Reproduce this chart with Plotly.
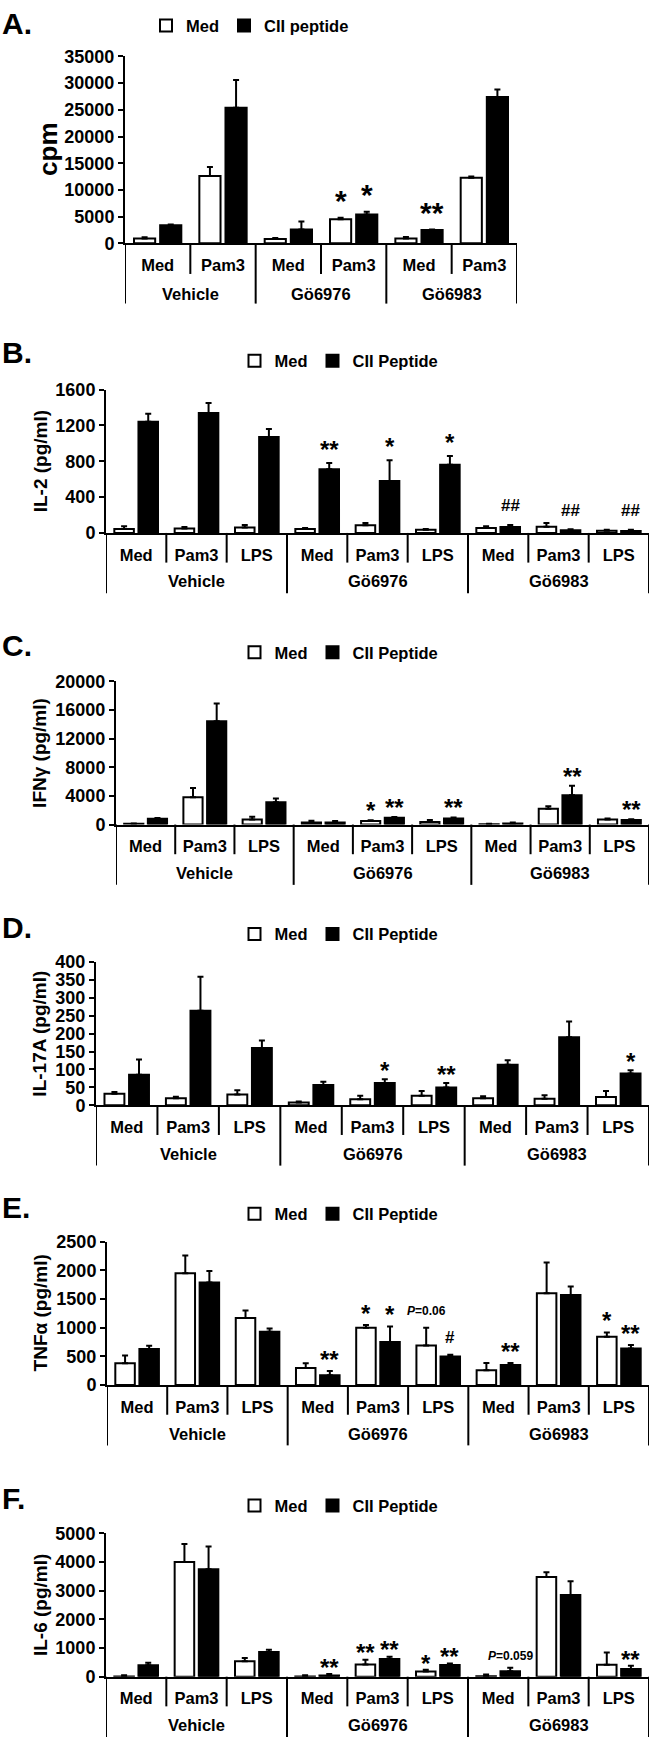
import plotly.graph_objects as go

W, H = 651, 1747
FONT = "Liberation Sans, Arial, Helvetica, sans-serif"

# ---------------- data ----------------
groups = ["Vehicle", "Gö6976", "Gö6983"]
cats_a = ["Med", "Pam3"]
cats_bf = ["Med", "Pam3", "LPS"]

# A. proliferation (cpm)
a_med = [900, 12600, 800, 4500, 900, 12300]
a_med_err = [250, 1700, 200, 300, 300, 200]
a_cii = [3400, 25400, 2600, 5400, 2500, 27400]
a_cii_err = [100, 5200, 1500, 500, 100, 1400]
a_sig = [(3, "med", "*"), (3, "cii", "*"), (4, "cii", "**")]

# B. IL-2 (pg/ml)
b_med = [45, 50, 60, 45, 85, 35, 55, 70, 25]
b_med_err = [30, 15, 30, 10, 25, 8, 20, 40, 10]
b_cii = [1240, 1340, 1070, 710, 580, 760, 65, 30, 22]
b_cii_err = [90, 110, 90, 70, 230, 100, 25, 10, 15]
b_sig = [(3, "cii", "**"), (4, "cii", "*"), (5, "cii", "*"),
         (6, "cii", "##"), (7, "cii", "##"), (8, "cii", "##")]

# C. IFNγ (pg/ml)
c_med = [100, 3800, 700, 300, 500, 350, 50, 2200, 700]
c_med_err = [50, 1300, 400, 250, 100, 300, 50, 350, 150]
c_cii = [800, 14400, 3100, 300, 950, 850, 150, 4100, 650]
c_cii_err = [100, 2500, 550, 200, 100, 150, 150, 1300, 100]
c_sig = [(4, "med", "*"), (4, "cii", "**"), (5, "cii", "**"),
         (7, "cii", "**"), (8, "cii", "**")]

# D. IL-17A (pg/ml)
d_med = [32, 20, 30, 8, 17, 27, 20, 18, 23]
d_med_err = [5, 4, 12, 3, 10, 13, 5, 10, 17]
d_cii = [85, 264, 160, 57, 62, 50, 113, 190, 89]
d_cii_err = [43, 95, 21, 9, 11, 12, 13, 44, 9]
d_sig = [(4, "cii", "*"), (5, "cii", "**"), (8, "cii", "*")]

# E. TNFα (pg/ml)
e_med = [380, 1950, 1170, 300, 1000, 690, 260, 1600, 845]
e_med_err = [135, 310, 130, 80, 50, 310, 125, 540, 70]
e_cii = [630, 1790, 930, 170, 750, 500, 350, 1570, 640]
e_cii_err = [55, 200, 55, 75, 270, 30, 35, 150, 60]
e_sig = [(3, "cii", "**"), (4, "med", "*"), (4, "cii", "*"),
         (5, "med", "<i>P</i>=0.06"), (5, "cii", "#"), (6, "cii", "**"),
         (8, "med", "*"), (8, "cii", "**")]

# F. IL-6 (pg/ml)
f_med = [10, 4000, 540, 10, 425, 180, 20, 3480, 420]
f_med_err = [40, 630, 110, 40, 170, 60, 60, 160, 420]
f_cii = [400, 3750, 860, 45, 620, 410, 190, 2850, 270]
f_cii_err = [90, 790, 80, 45, 80, 50, 120, 480, 110]
f_sig = [(3, "cii", "**"), (4, "med", "**"), (4, "cii", "**"),
         (5, "med", "*"), (5, "cii", "**"), (6, "cii", "<i>P</i>=0.059"),
         (8, "cii", "**")]

panels = [
    dict(letter="A.", ytitle="cpm", cats=cats_a, legend_names=["Med", "CII peptide"],
         med=a_med, med_err=a_med_err, cii=a_cii, cii_err=a_cii_err, sig=a_sig,
         ymax=35000, dtick=5000),
    dict(letter="B.", ytitle="IL-2 (pg/ml)", cats=cats_bf, legend_names=["Med", "CII Peptide"],
         med=b_med, med_err=b_med_err, cii=b_cii, cii_err=b_cii_err, sig=b_sig,
         ymax=1600, dtick=400),
    dict(letter="C.", ytitle="IFNγ (pg/ml)", cats=cats_bf, legend_names=["Med", "CII Peptide"],
         med=c_med, med_err=c_med_err, cii=c_cii, cii_err=c_cii_err, sig=c_sig,
         ymax=20000, dtick=4000),
    dict(letter="D.", ytitle="IL-17A (pg/ml)", cats=cats_bf, legend_names=["Med", "CII Peptide"],
         med=d_med, med_err=d_med_err, cii=d_cii, cii_err=d_cii_err, sig=d_sig,
         ymax=400, dtick=50),
    dict(letter="E.", ytitle="TNFα (pg/ml)", cats=cats_bf, legend_names=["Med", "CII Peptide"],
         med=e_med, med_err=e_med_err, cii=e_cii, cii_err=e_cii_err, sig=e_sig,
         ymax=2500, dtick=500),
    dict(letter="F.", ytitle="IL-6 (pg/ml)", cats=cats_bf, legend_names=["Med", "CII Peptide"],
         med=f_med, med_err=f_med_err, cii=f_cii, cii_err=f_cii_err, sig=f_sig,
         ymax=5000, dtick=1000),
]

# ---------------- layout geometry (pixels) ----------------
geom = [
    dict(x0=125, x1=517, ytop=47, yzero=236, G=287, short=31, long=10, leg=(250, 16),
         letter_y=14, ytx=48, ytfs=26, lift=24),
    dict(x0=106, x1=649, ytop=384, yzero=529, G=578, short=30, long=12, leg=(339, 355),
         letter_y=346, ytx=40, ytfs=19, lift=19),
    dict(x0=116, x1=649, ytop=679, yzero=824, G=873, short=30, long=12, leg=(339, 650),
         letter_y=643, ytx=40, ytfs=19, lift=15),
    dict(x0=96, x1=649, ytop=963, yzero=1108, G=1157, short=30, long=12, leg=(339, 935),
         letter_y=928, ytx=40, ytfs=19, lift=14),
    dict(x0=107, x1=649, ytop=1246, yzero=1391, G=1440, short=30, long=12, leg=(339, 1218),
         letter_y=1211, ytx=40, ytfs=19, lift=17),
    dict(x0=106, x1=649, ytop=1541, yzero=1686, G=1735, short=30, long=12, leg=(339, 1513),
         letter_y=1506, ytx=40, ytfs=19, lift=12),
]

BARGAP = 0.2
OFF = (1 - BARGAP) / 4


def fx(p):
    return p / W


def fy(p):
    return 1 - p / H


fig = go.Figure()
shapes, annotations = [], []
layout_upd = {}

for i, (p, g) in enumerate(zip(panels, geom), start=1):
    sfx = "" if i == 1 else str(i)
    xref, yref = "x" + sfx, "y" + sfx
    legname = "legend" + sfx
    cats = p["cats"]
    nc = len(cats)
    n = nc * len(groups)
    xs = list(range(n))
    ticktext = cats * len(groups)

    err_style = dict(type="data", symmetric=False, color="black", thickness=2, width=3)
    fig.add_trace(go.Bar(
        x=xs, y=p["med"], name=p["legend_names"][0], legend=legname,
        xaxis=xref, yaxis=yref,
        marker=dict(color="white", line=dict(color="black", width=2)),
        error_y=dict(array=p["med_err"], arrayminus=[0] * n, **err_style),
    ))
    fig.add_trace(go.Bar(
        x=xs, y=p["cii"], name=p["legend_names"][1], legend=legname,
        xaxis=xref, yaxis=yref,
        marker=dict(color="black", line=dict(color="black", width=2)),
        error_y=dict(array=p["cii_err"], arrayminus=[0] * n, **err_style),
    ))

    layout_upd["xaxis" + sfx] = dict(
        domain=[fx(g["x0"]), fx(g["x1"])], anchor=yref, range=[-0.5, n - 0.5],
        tickmode="array", tickvals=xs, ticktext=ticktext,
        showline=True, linecolor="black", linewidth=2,
        ticks="outside", ticklen=6, tickcolor="rgba(0,0,0,0)",
        tickfont=dict(family=FONT, size=16.5, color="black", weight="bold"),
        showgrid=False, zeroline=False, fixedrange=True,
    )
    layout_upd["yaxis" + sfx] = dict(
        domain=[fy(g["yzero"]), fy(g["ytop"])], anchor=xref, range=[0, p["ymax"]],
        tickmode="linear", tick0=0, dtick=p["dtick"], tickformat="d",
        showline=True, linecolor="black", linewidth=2,
        ticks="outside", ticklen=5, tickwidth=2, tickcolor="black",
        tickfont=dict(family=FONT, size=18, color="black", weight="bold"),
        showgrid=False, zeroline=False, fixedrange=True,
    )
    layout_upd[legname] = dict(
        x=fx(g["leg"][0]), xanchor="center", y=fy(g["leg"][1]), yanchor="middle",
        orientation="h", bgcolor="rgba(0,0,0,0)", itemwidth=30,
        font=dict(family=FONT, size=16.5, color="black", weight="bold"),
        traceorder="normal",
    )

    # bracket separators below the category axis
    for k in range(n + 1):
        is_group_edge = (k % nc == 0)
        bottom = g["G"] + g["long"] if is_group_edge else g["yzero"] + g["short"]
        shapes.append(dict(type="line", xref=xref, yref="paper",
                           x0=k - 0.5, x1=k - 0.5, y0=fy(g["yzero"]), y1=fy(bottom),
                           line=dict(color="black", width=2)))

    # group labels
    for gi, gname in enumerate(groups):
        annotations.append(dict(text=gname, xref=xref, yref="paper",
                                x=gi * nc + (nc - 1) / 2, y=fy(g["G"]),
                                xanchor="center", yanchor="middle", showarrow=False,
                                font=dict(family=FONT, size=16.5, color="black", weight="bold")))

    # panel letter
    annotations.append(dict(text=p["letter"], xref="paper", yref="paper",
                            x=0, y=fy(g["letter_y"]), xanchor="left", yanchor="middle",
                            showarrow=False,
                            font=dict(family=FONT, size=30, color="black", weight="bold")))
    # y title
    annotations.append(dict(text=p["ytitle"], xref="paper", yref="paper",
                            x=fx(g["ytx"]), y=fy((g["ytop"] + g["yzero"]) / 2),
                            xanchor="center", yanchor="middle", textangle=-90,
                            showarrow=False,
                            font=dict(family=FONT, size=g["ytfs"], color="black", weight="bold")))

    # significance marks
    for idx, series, txt in p["sig"]:
        if series == "med":
            xv, top = idx - OFF, p["med"][idx] + p["med_err"][idx]
        else:
            xv, top = idx + OFF, p["cii"][idx] + p["cii_err"][idx]
        if "P" in txt:
            fs, corr = 12, 0
        elif "#" in txt:
            fs, corr = 17, 0
        else:
            fs = 30 if i == 1 else 24
            corr = 0.22 * fs
        annotations.append(dict(text=txt, xref=xref, yref=yref, x=xv, y=top,
                                xanchor="center", yanchor="middle",
                                yshift=g["lift"] - corr, showarrow=False,
                                font=dict(family=FONT, size=fs, color="black", weight="bold")))

fig.update_layout(
    width=W, height=H, margin=dict(l=0, r=0, t=0, b=0),
    paper_bgcolor="white", plot_bgcolor="white",
    barmode="group", bargap=BARGAP, bargroupgap=0.19,
    shapes=shapes, annotations=annotations,
    **layout_upd,
)

fig.write_html(
    "out.html",
    config={"displayModeBar": False},
    post_script="document.body.style.margin='0';document.body.style.padding='0';",
)
